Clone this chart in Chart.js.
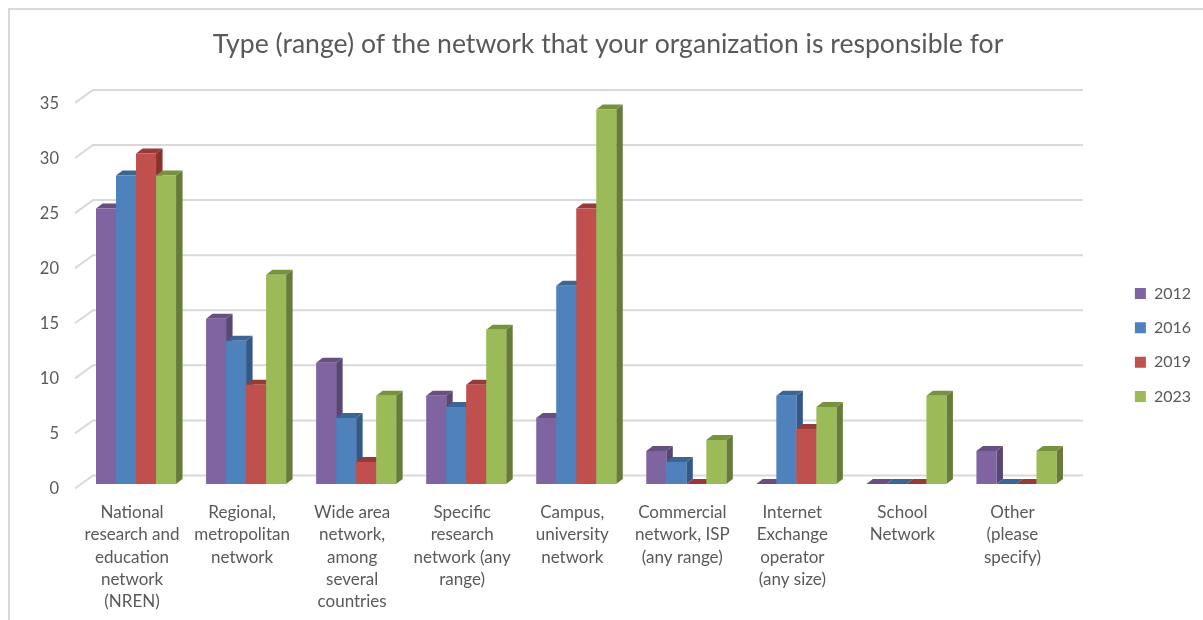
<!DOCTYPE html>
<html>
<head>
<meta charset="utf-8">
<script src="https://cdn.jsdelivr.net/npm/chart.js@4/dist/chart.umd.min.js"></script>
<style>
  html, body { margin: 0; padding: 0; background: #fff; overflow: hidden; }
  #frame { position: absolute; left: 8px; top: 8px; width: 1195px; height: 612px; border-left: 2px solid #d9d9d9; border-top: 2px solid #d9d9d9; }
  #chart { position: absolute; left: 0; top: 0; }
</style>
</head>
<body>
<div id="frame"></div>
<canvas id="chart" width="1203" height="620"></canvas>
<script>
const titleText = 'Type (range) of the network that your organization is responsible for';
const categories = [
  ['National', 'research and', 'education', 'network', '(NREN)'],
  ['Regional,', 'metropolitan', 'network'],
  ['Wide area', 'network,', 'among', 'several', 'countries'],
  ['Specific', 'research', 'network (any', 'range)'],
  ['Campus,', 'university', 'network'],
  ['Commercial', 'network, ISP', '(any range)'],
  ['Internet', 'Exchange', 'operator', '(any size)'],
  ['School', 'Network'],
  ['Other', '(please', 'specify)'],
];
const values2012 = [25, 15, 11, 8, 6, 3, 0, 0, 3];
const values2016 = [28, 13, 6, 7, 18, 2, 8, 0, 0];
const values2019 = [30, 9, 2, 9, 25, 0, 5, 0, 0];
const values2023 = [28, 19, 8, 14, 34, 4, 7, 8, 3];

const textColor = '#595959';
const gridColor = '#d9d9d9';
const fontFamily = 'Lato, sans-serif';

// 막대 옆면/윗면 깊이
const depthX = 6.5;
const depthY = 5;

function face(ctx, color, pts) {
  ctx.fillStyle = color;
  ctx.beginPath();
  ctx.moveTo(pts[0][0], pts[0][1]);
  for (let i = 1; i < pts.length; i++) ctx.lineTo(pts[i][0], pts[i][1]);
  ctx.closePath();
  ctx.fill();
}

// 뒤쪽 벽 격자선 + 입체 막대
const fake3d = {
  id: 'fake3d',
  afterLayout(chart) {
    // 범례, 제목 위치만 보정
    chart.legend.left += 45;
    chart.legend.right += 45;
    chart.legend.top += 35;
    chart.legend.bottom += 35;
    chart.titleBlock.left += 23;
    chart.titleBlock.right += 23;
  },
  beforeDatasetsDraw(chart) {
    const ctx = chart.ctx;
    const yScale = chart.scales.y;
    const area = chart.chartArea;
    ctx.save();
    ctx.strokeStyle = gridColor;
    ctx.lineWidth = 2;
    yScale.ticks.forEach((t) => {
      const y = yScale.getPixelForValue(t.value);
      ctx.beginPath();
      ctx.moveTo(area.left - 6, y + 4.5);
      ctx.lineTo(area.left + 12, y - 8.5);
      ctx.lineTo(1083, y - 8.5);
      ctx.stroke();
    });
    // 왼쪽 시리즈부터 그려야 옆면이 다음 막대에 가려짐
    chart.data.datasets.forEach((ds, i) => {
      chart.getDatasetMeta(i).data.forEach((bar) => {
        const p = bar.getProps(['x', 'y', 'base', 'width']);
        const l = p.x - p.width / 2;
        const r = p.x + p.width / 2;
        face(ctx, ds.sideColor, [[r, p.y], [r + depthX, p.y - depthY], [r + depthX, p.base - depthY], [r, p.base]]);
        face(ctx, ds.topColor, [[l, p.y], [l + depthX, p.y - depthY], [r + depthX, p.y - depthY], [r, p.y]]);
        bar.draw(ctx);
      });
    });
    ctx.restore();
    return false;
  },
};

new Chart(document.getElementById('chart'), {
  type: 'bar',
  data: {
    labels: categories,
    datasets: [
      { label: '2012', data: values2012, backgroundColor: '#8064a2', sideColor: '#5a4675', topColor: '#67507f' },
      { label: '2016', data: values2016, backgroundColor: '#4f81bd', sideColor: '#33598a', topColor: '#3b6595' },
      { label: '2019', data: values2019, backgroundColor: '#c0504d', sideColor: '#8c302e', topColor: '#983a38' },
      { label: '2023', data: values2023, backgroundColor: '#9bbb59', sideColor: '#667c38', topColor: '#76923c' },
    ],
  },
  options: {
    responsive: false,
    animation: false,
    layout: { padding: { left: 14, right: 47, top: 0, bottom: 0 } },
    datasets: { bar: { barPercentage: 1, categoryPercentage: 80 / 110 } },
    plugins: {
      tooltip: { enabled: false },
      title: {
        display: true,
        text: titleText,
        color: textColor,
        font: { family: fontFamily, size: 26.6, weight: 'normal', lineHeight: 1.2 },
        padding: { top: 28, bottom: 38.5 },
      },
      legend: {
        position: 'right',
        labels: {
          boxWidth: 11,
          boxHeight: 11,
          padding: 18.4,
          color: textColor,
          font: { family: fontFamily, size: 16 },
        },
      },
    },
    scales: {
      x: {
        grid: { display: false },
        border: { display: false },
        afterFit(scale) { scale.height = 136; },
        ticks: {
          color: textColor,
          font: { family: fontFamily, size: 17, lineHeight: 1.32 },
          labelOffset: -4,
          padding: 9,
          maxRotation: 0,
          autoSkip: false,
        },
      },
      y: {
        min: 0,
        max: 35,
        grid: { display: false },
        border: { display: false },
        afterFit(scale) { scale.width = 67; },
        ticks: {
          stepSize: 5,
          color: textColor,
          font: { family: fontFamily, size: 16.5 },
          labelOffset: 5,
          padding: 14,
        },
      },
    },
  },
  plugins: [fake3d],
});
</script>
</body>
</html>
